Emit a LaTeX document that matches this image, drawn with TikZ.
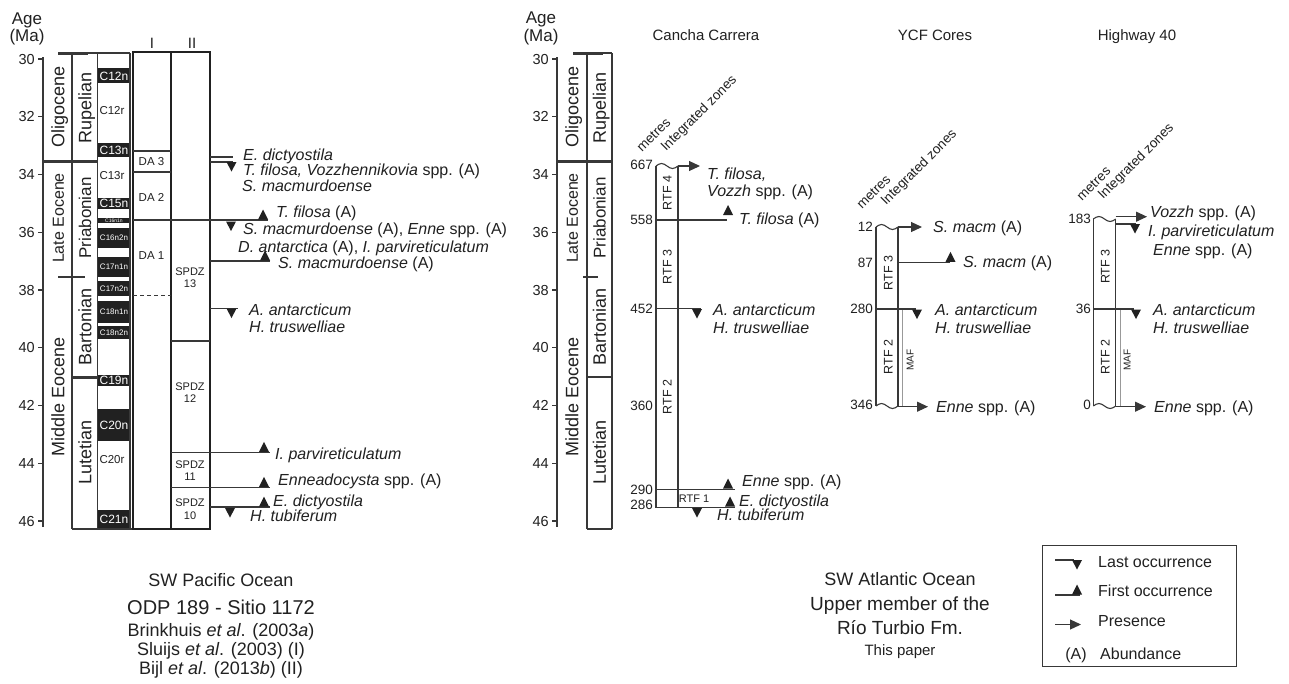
\documentclass[tikz,border=0pt]{standalone}
\usepackage{fontspec}
\setmainfont{Liberation Sans}
\usetikzlibrary{arrows.meta}
\definecolor{ink}{gray}{0.13}
\definecolor{ln}{gray}{0.22}
\definecolor{maf}{gray}{0.6}
\newcommand\fsz[1]{\fontsize{#1}{#1}\selectfont}
\newcommand\upmark[2]{\fill[ink] ({#1-5},#2) -- ({#1+5},#2) -- (#1,{#2-10}) -- cycle;}
\newcommand\downmark[2]{\fill[ink] ({#1-5},#2) -- ({#1+5},#2) -- (#1,{#2+9.5}) -- cycle;}
\newcommand\wave[3]{\draw[lnA] (#1,#3) sin ({(#1*3+#2)/4},{#3-2.5}) cos ({(#1+#2)/2},#3) sin ({(#1+3*#2)/4},{#3+2.5}) cos (#2,#3);}
\tikzset{
 tx/.style={inner sep=0pt, text=ink, text depth=0pt},
 f5/.style={tx,font=\fsz{5},text height=3.6pt},
 f8/.style={tx,font=\fsz{8},text height=5.7pt},
 f10/.style={tx,font=\fsz{10},text height=7.2pt},
 f11/.style={tx,font=\fsz{11},text height=7.9pt},
 f115/.style={tx,font=\fsz{11.5},text height=8.2pt},
 f12/.style={tx,font=\fsz{12},text height=8.6pt},
 f125/.style={tx,font=\fsz{12.5},text height=9pt},
 f135/.style={tx,font=\fsz{13.5},text height=9.7pt},
 f145/.style={tx,font=\fsz{14.5},text height=10.4pt},
 f15/.style={tx,font=\fsz{15},text height=10.7pt},
 f16/.style={tx,font=\fsz{16},text height=11.5pt},
 f17/.style={tx,font=\fsz{17},text height=12.2pt},
 f18/.style={tx,font=\fsz{18},text height=12.9pt},
 f19/.style={tx,font=\fsz{19},text height=13.6pt},
 f20/.style={tx,font=\fsz{20},text height=14.3pt},
 sp/.style={f16,anchor=west},
 rotl/.style={f18,rotate=90},
 rtf/.style={f125,rotate=90},
 num/.style={f135,anchor=east},
 axn/.style={f145,anchor=east},
 diag/.style={f135,rotate=45,anchor=base west},
 wl/.style={text=white},
 lnA/.style={draw=ln,line width=1.1pt},
 lnB/.style={draw=ln,line width=3pt},
 pres/.style={lnA,-{Triangle[length=11pt,width=10pt]}},
}
\begin{document}
\begin{tikzpicture}[x=1pt,y=-1pt]
\path[use as bounding box,fill=white] (0,0) rectangle (1289,683);

% ================= LEFT: ODP 1172 =================
\node[f17] (age1) at (27,18) {Age};
\node[f17] (ma1) at (27,35) {(Ma)};
\node[f15] (hI) at (152,43) {I};
\node[f15] (hII) at (192,43) {II};

% chron blocks
\fill[ink] (97.7,68.3) rectangle (130,83.3);
\fill[ink] (97.7,142.7) rectangle (130,156.7);
\fill[ink] (97.7,197.7) rectangle (130,209.3);
\fill[ink] (97.7,218.3) rectangle (130,222.7);
\fill[ink] (97.7,228.3) rectangle (130,248.3);
\fill[ink] (97.7,256.7) rectangle (130,276.7);
\fill[ink] (97.7,281) rectangle (130,296);
\fill[ink] (97.7,301) rectangle (130,323);
\fill[ink] (97.7,326) rectangle (130,339.3);
\fill[ink] (97.7,375) rectangle (130,386);
\fill[ink] (97.7,409.3) rectangle (130,440.7);
\fill[ink] (97.7,510) rectangle (130,529);

% axis and column frame
\draw[lnA] (43,57) -- (43,527);
\foreach \a [evaluate=\a as \yy using {59+(\a-30)*28.875}] in {30,32,...,46} {
  \draw[lnA] (38,\yy) -- (43,\yy);
  \node[axn] (L\a) at (35,\yy) {\a};
  \draw[lnA] (552,\yy) -- (557,\yy);
  \node[axn] (M\a) at (549,\yy) {\a};
}
\draw[lnA] (72,53) -- (72,529);
\draw[lnA] (97.7,53) -- (97.7,529);
\draw[lnA] (130,53) -- (130,529);
\draw[lnA] (72,529) -- (133,529);
\draw[lnA] (88,53) -- (130,53);
\draw[lnB] (58,53) -- (88,53);
\draw[lnB] (43,161) -- (97.7,161);
\draw[lnB,line width=2.5pt] (58,277) -- (85,277);
\draw[lnB,line width=2.5pt] (72,377.7) -- (97.7,377.7);
\draw[ink,line width=2pt] (133,52) rectangle (210,529);
\draw[ink,line width=2pt] (170.5,52) -- (170.5,529);

% column I / II internal lines
\draw[lnA] (133,151) -- (170.5,151);
\draw[lnA] (133,172) -- (170.5,172);
\draw[lnA,dash pattern=on 4pt off 3pt] (133,295.5) -- (170.5,295.5);
\draw[lnA] (133,220) -- (268,220);
\draw[lnA] (170.5,341) -- (210,341);
\draw[lnA] (170.5,452.3) -- (270,452.3);
\draw[lnA] (170.5,487.3) -- (270,487.3);
\draw[lnA] (210,507) -- (270,507);
\draw[lnA] (210,157) -- (233,157);
\draw[lnA] (210,162) -- (233,162);
\draw[lnA] (210,261) -- (270,261);
\draw[lnA] (210,308.5) -- (238,308.5);

% epoch / stage labels
\node[rotl] (olig1) at (58,107) {Oligocene};
\node[rotl] (rup1) at (85,108) {Rupelian};
\node[rotl,f16] (leoc1) at (58,218) {Late Eocene};
\node[rotl,f17] (pria1) at (85,218) {Priabonian};
\node[rotl] (meoc1) at (58,397) {Middle Eocene};
\node[rotl] (bart1) at (85,327) {Bartonian};
\node[rotl] (lute1) at (85,452) {Lutetian};

% chron labels
\node[f12,wl] (c12n) at (114,76) {C12n};
\node[f115] (c12r) at (112,110) {C12r};
\node[f12,wl] (c13n) at (114,150) {C13n};
\node[f115] (c13r) at (112,175) {C13r};
\node[f12,wl] (c15n) at (114,203.5) {C15n};
\node[f5,wl] (c16n1n) at (114,220.5) {C16n1n};
\node[f8,wl] (c16n2n) at (114,238) {C16n2n};
\node[f8,wl] (c17n1n) at (114,267) {C17n1n};
\node[f8,wl] (c17n2n) at (114,288.5) {C17n2n};
\node[f8,wl] (c18n1n) at (114,312) {C18n1n};
\node[f8,wl] (c18n2n) at (114,332.7) {C18n2n};
\node[f12,wl] (c19n) at (114,380.5) {C19n};
\node[f12,wl] (c20n) at (114,425) {C20n};
\node[f115] (c20r) at (112,459) {C20r};
\node[f12,wl] (c21n) at (114,519.5) {C21n};

% zone labels
\node[f115] (da3) at (151.5,161.5) {DA 3};
\node[f115] (da2) at (151.5,197) {DA 2};
\node[f115] (da1) at (151.5,255) {DA 1};
\node[f11] (sp13a) at (190,272) {SPDZ};
\node[f11] (sp13b) at (190,283.5) {13};
\node[f11] (sp12a) at (190,387) {SPDZ};
\node[f11] (sp12b) at (190,398.5) {12};
\node[f11] (sp11a) at (190,464.5) {SPDZ};
\node[f11] (sp11b) at (190,477) {11};
\node[f11] (sp10a) at (190,503) {SPDZ};
\node[f11] (sp10b) at (190,516) {10};

% markers left
\downmark{231.5}{162}
\upmark{263}{219.5}
\downmark{231}{221.5}
\upmark{265}{260.5}
\downmark{231.5}{308.5}
\upmark{264}{451.8}
\upmark{264}{486.8}
\upmark{264}{506.5}
\downmark{230}{508}

\node[sp] (l1) at (243,154.5) {\textit{E. dictyostila}};
\node[sp] (l2) at (243,170) {\textit{T. filosa, Vozzhennikovia} spp. (A)};
\node[sp] (l3) at (242,185.5) {\textit{S. macmurdoense}};
\node[sp] (l4) at (276,212) {\textit{T. filosa} (A)};
\node[sp] (l5) at (243,228.5) {\textit{S. macmurdoense} (A), \textit{Enne} spp. (A)};
\node[sp] (l6) at (238,246.5) {\textit{D. antarctica} (A), \textit{I. parvireticulatum}};
\node[sp] (l7) at (278,263) {\textit{S. macmurdoense} (A)};
\node[sp] (l8) at (249,309.5) {\textit{A. antarcticum}};
\node[sp] (l9) at (249,327) {\textit{H. truswelliae}};
\node[sp] (l10) at (275,453.5) {\textit{I. parvireticulatum}};
\node[sp] (l11) at (278,480) {\textit{Enneadocysta} spp. (A)};
\node[sp] (l12) at (273,501) {\textit{E. dictyostila}};
\node[sp] (l13) at (250,515.5) {\textit{H. tubiferum}};

% bottom left text
\node[f18] (pac) at (221,580) {SW Pacific Ocean};
\node[f20] (odp) at (221,607) {ODP 189 - Sitio 1172};
\node[f18] (ref1) at (221,630.5) {Brinkhuis \textit{et al}. (2003\textit{a})};
\node[f18] (ref2) at (221,649.5) {Sluijs \textit{et al}. (2003) (I)};
\node[f18] (ref3) at (221,668) {Bijl \textit{et al}. (2013\textit{b}) (II)};

% ================= MIDDLE: time scale =================
\node[f17] (age2) at (541,17) {Age};
\node[f17] (ma2) at (541,35) {(Ma)};
\draw[lnA] (557,57) -- (557,527);
\draw[lnA] (587,53) -- (587,529);
\draw[lnA] (612,53) -- (612,529);
\draw[lnA] (587,529) -- (612,529);
\draw[lnA] (603,53) -- (612,53);
\draw[lnB] (573,53) -- (603,53);
\draw[lnB] (557,161) -- (612,161);
\draw[lnB,line width=2.5pt] (583,277) -- (598,277);
\draw[lnB,line width=2.5pt] (587,377) -- (612,377);
\node[rotl] (olig2) at (572,107) {Oligocene};
\node[rotl] (rup2) at (599.5,108) {Rupelian};
\node[rotl,f16] (leoc2) at (572,218) {Late Eocene};
\node[rotl,f17] (pria2) at (599.5,218) {Priabonian};
\node[rotl] (meoc2) at (572,397) {Middle Eocene};
\node[rotl] (bart2) at (599.5,327) {Bartonian};
\node[rotl] (lute2) at (599.5,452) {Lutetian};

% ================= Cancha Carrera =================
\node[f15] (hcc) at (706,35) {Cancha Carrera};
\node[diag] (mcc) at (642,153) {metres};
\node[diag] (izcc) at (666,152) {Integrated zones};
\wave{656}{678}{166}
\draw[lnA] (656,166) -- (656,507.5);
\draw[lnA] (678,166) -- (678,507.5);
\draw[pres] (678,166) -- (700,166);
\node[num] (n667) at (653,165) {667};
\node[sp] (cc1) at (707,173.5) {\textit{T. filosa,}};
\node[sp] (cc2) at (707,191) {\textit{Vozzh} spp. (A)};
\node[rtf] (rtf4c) at (667,193) {RTF 4};
\node[num] (n558) at (653,220) {558};
\draw[lnA] (656,220) -- (727,220);
\upmark{728}{215}
\node[sp] (cc3) at (739,219) {\textit{T. filosa} (A)};
\node[rtf] (rtf3c) at (667,267) {RTF 3};
\node[num] (n452) at (653,308.5) {452};
\draw[lnA] (656,308.5) -- (701,308.5);
\downmark{697}{309}
\node[sp] (cc4) at (713,309.5) {\textit{A. antarcticum}};
\node[sp] (cc5) at (713,327.5) {\textit{H. truswelliae}};
\node[rtf] (rtf2c) at (667,397) {RTF 2};
\node[num] (n360) at (653,405.7) {360};
\node[num] (n290) at (653,489.3) {290};
\draw[lnA] (656,489.3) -- (735,489.3);
\upmark{728}{488.5}
\node[sp] (cc6) at (742,481) {\textit{Enne} spp. (A)};
\node[f11] (rtf1c) at (694,498.5) {RTF 1};
\node[num] (n286) at (653,505) {286};
\draw[lnA] (656,507.5) -- (735,507.5);
\upmark{730}{506.5}
\node[sp] (cc7) at (739,500.7) {\textit{E. dictyostila}};
\downmark{697}{508}
\node[sp] (cc8) at (717,515) {\textit{H. tubiferum}};

% ================= YCF Cores =================
\node[f15] (hycf) at (935,35) {YCF Cores};
\node[diag] (my) at (862,210) {metres};
\node[diag] (izy) at (886,206) {Integrated zones};
\wave{876}{898}{227}
\wave{876}{898}{406}
\draw[lnA] (876,227) -- (876,406);
\draw[lnA] (898,227) -- (898,406);
\draw[maf,line width=0.8pt] (902.5,309) -- (902.5,406);
\draw[pres] (898,227) -- (922,227);
\node[num] (n12) at (873,226.5) {12};
\node[sp] (y1) at (933,226.5) {\textit{S. macm} (A)};
\node[num] (n87) at (873,262.3) {87};
\draw[lnA] (898,262.3) -- (950,262.3);
\upmark{950.5}{261.8}
\node[sp] (y2) at (963,262) {\textit{S. macm} (A)};
\node[rtf] (rtf3y) at (888,273) {RTF 3};
\node[num] (n280) at (873,309) {280};
\draw[lnA] (876,309) -- (916,309);
\downmark{917}{309.5}
\node[sp] (y3) at (935,309.5) {\textit{A. antarcticum}};
\node[sp] (y4) at (935,327.7) {\textit{H. truswelliae}};
\node[rtf] (rtf2y) at (888,357) {RTF 2};
\node[f10,rotate=90] (mafy) at (910,360) {MAF};
\node[num] (n346) at (873,405) {346};
\draw[pres] (898,406.7) -- (928,406.7);
\node[sp] (y5) at (936,407) {\textit{Enne} spp. (A)};

% ================= Highway 40 =================
\node[f15] (hhw) at (1137,35) {Highway 40};
\node[diag] (mh) at (1082,201.5) {metres};
\node[diag] (izh) at (1103,200) {Integrated zones};
\wave{1093.3}{1115.7}{219}
\wave{1093.3}{1115.7}{406}
\draw[lnA] (1093.3,219) -- (1093.3,406);
\draw[lnA] (1115.7,219) -- (1115.7,406);
\draw[maf,line width=0.8pt] (1120,309) -- (1120,406);
\node[num] (n183) at (1091,219) {183};
\draw[pres] (1115.7,216.7) -- (1147,216.7);
\draw[lnA] (1115.7,224) -- (1136,224);
\downmark{1135}{224}
\node[sp] (h1) at (1150,212) {\textit{Vozzh} spp. (A)};
\node[sp] (h2) at (1148,231) {\textit{I. parvireticulatum}};
\node[sp] (h3) at (1153,250) {\textit{Enne} spp. (A)};
\node[rtf] (rtf3h) at (1105,266.7) {RTF 3};
\node[num] (n36) at (1091,309) {36};
\draw[lnA] (1093.3,309) -- (1134,309);
\downmark{1136}{309.5}
\node[sp] (h4) at (1153,309.5) {\textit{A. antarcticum}};
\node[sp] (h5) at (1153,327.7) {\textit{H. truswelliae}};
\node[rtf] (rtf2h) at (1105,357) {RTF 2};
\node[f10,rotate=90] (mafh) at (1127,360) {MAF};
\node[num] (n0) at (1091,405) {0};
\draw[pres] (1115.7,406.7) -- (1146,406.7);
\node[sp] (h6) at (1154,407) {\textit{Enne} spp. (A)};

% bottom middle text
\node[f18] (atl) at (900,579) {SW Atlantic Ocean};
\node[f19] (upm) at (900,604) {Upper member of the};
\node[f19] (rtb) at (900,628) {Río Turbio Fm.};
\node[f15] (thp) at (900,650) {This paper};

% ================= Legend =================
\draw[lnA,line width=0.9pt] (1042,545) rectangle (1236.7,666.7);
\draw[lnA] (1055,560) -- (1074,560);
\downmark{1077}{560}
\node[sp] (lg1) at (1098,561.5) {Last occurrence};
\draw[lnA] (1055,595) -- (1080,595);
\upmark{1077}{594.5}
\node[sp] (lg2) at (1098,591) {First occurrence};
\draw[pres] (1055,624.5) -- (1081,624.5);
\node[sp] (lg3) at (1098,621) {Presence};
\node[f16] (lg4a) at (1076,653.3) {(A)};
\node[sp] (lg4) at (1100,653.3) {Abundance};
\end{tikzpicture}
\end{document}
